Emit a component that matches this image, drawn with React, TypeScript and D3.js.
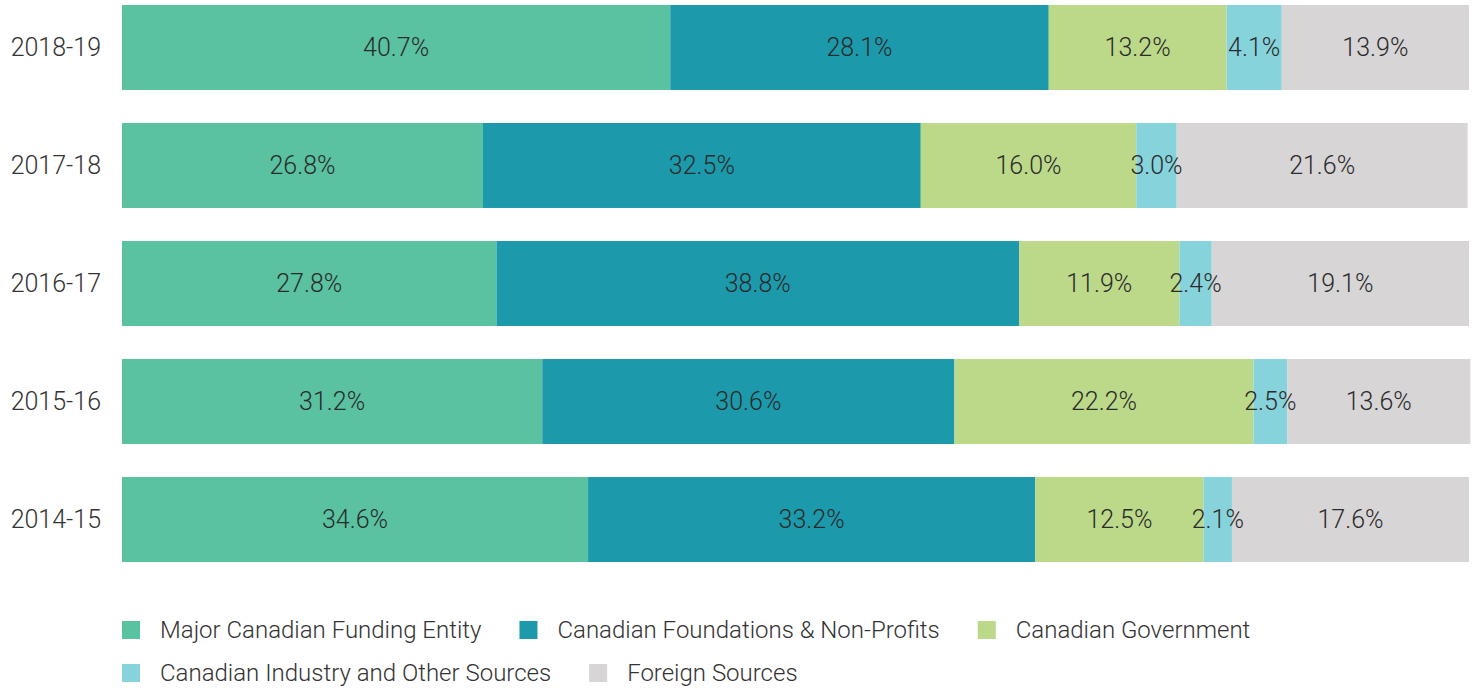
import React, { useEffect, useRef } from "react";
import * as d3 from "d3";

const years = ["2018-19", "2017-18", "2016-17", "2015-16", "2014-15"];
const sources = [
  "Major Canadian Funding Entity",
  "Canadian Foundations & Non-Profits",
  "Canadian Government",
  "Canadian Industry and Other Sources",
  "Foreign Sources",
];
const colors = ["#5ac2a1", "#1c9aab", "#bcd98a", "#87d3dc", "#d7d5d6"];

// share of funding (%) per year, same order as years
const majorEntity = [40.7, 26.8, 27.8, 31.2, 34.6];
const foundations = [28.1, 32.5, 38.8, 30.6, 33.2];
const government = [13.2, 16.0, 11.9, 22.2, 12.5];
const industry = [4.1, 3.0, 2.4, 2.5, 2.1];
const foreign = [13.9, 21.6, 19.1, 13.6, 17.6];

const FONT = "Roboto, 'Liberation Sans', sans-serif";

export default function App() {
  const ref = useRef<SVGSVGElement>(null);

  useEffect(() => {
    const width = 1478;
    const svg = d3.select(ref.current);
    svg.selectAll("*").remove();

    const rows = years.map((y, i) => ({
      year: y,
      values: [majorEntity[i], foundations[i], government[i], industry[i], foreign[i]],
    }));

    var x = d3.scaleLinear().domain([0, 100]).range([122, 1469]);
    var y = d3.scaleBand().domain(years).range([5, 562]).paddingInner(0.28).paddingOuter(0);
    var color = d3.scaleOrdinal<number, string>().domain(d3.range(5)).range(colors);

    const stackRow = (d: { values: number[] }) => {
      let acc = 0;
      return d.values.map((v, k) => {
        const s = { k, v, x0: acc, x1: acc + v };
        acc += v;
        return s;
      });
    };

    const g = svg.append("g").attr("font-family", FONT).attr("font-weight", 300);

    const row = g.selectAll("g.row").data(rows).join("g").attr("class", "row")
      .attr("transform", d => "translate(0," + y(d.year) + ")");

    row.append("text")
      .attr("x", 101)
      .attr("y", y.bandwidth() / 2)
      .attr("dy", "0.35em")
      .attr("text-anchor", "end")
      .attr("font-size", 25)
      .attr("fill", "#333")
      .text(d => d.year);

    // bars first, then labels on top so narrow segments don't clip them
    row.append("g").selectAll("rect")
      .data(stackRow)
      .join("rect")
      .attr("x", d => x(d.x0))
      .attr("width", d => x(d.x1) - x(d.x0))
      .attr("height", y.bandwidth())
      .attr("fill", d => color(d.k));

    row.append("g").selectAll("text")
      .data(stackRow)
      .join("text")
      .attr("x", d => (x(d.x0) + x(d.x1)) / 2)
      .attr("y", y.bandwidth() / 2)
      .attr("dy", "0.35em")
      .attr("text-anchor", "middle")
      .attr("font-size", 25)
      .attr("fill", "#2b2b2b")
      .text(d => d.v.toFixed(1) + "%");

    // legend, flowed left to right and wrapped
    const legend = g.append("g");
    let lx = 122, ly = 630;
    sources.forEach((s, i) => {
      const item = legend.append("g");
      item.append("rect").attr("width", 18).attr("height", 18).attr("y", -9).attr("fill", colors[i]);
      const t = item.append("text")
        .attr("x", 38)
        .attr("dy", "0.35em")
        .attr("font-size", 24)
        .attr("fill", "#333")
        .text(s);
      const w = (t.node() as SVGTextElement).getComputedTextLength() + 38;
      if (lx + w > width - 200 && lx > 122) {
        lx = 122;
        ly += 43;
      }
      item.attr("transform", "translate(" + lx + "," + ly + ")");
      lx += w + 38;
    });
  }, []);

  return (
    <svg
      ref={ref}
      width={1478}
      height={688}
      style={{ position: "absolute", left: 0, top: 0, display: "block", background: "#fff" }}
    />
  );
}
